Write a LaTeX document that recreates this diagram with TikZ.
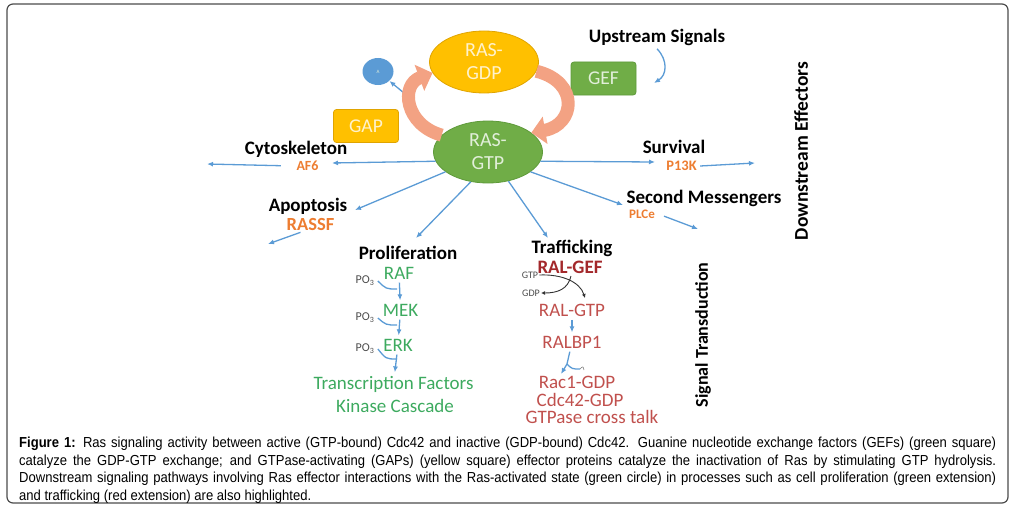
\documentclass[tikz,border=0pt]{standalone}
\usepackage{fontspec}
\setmainfont{Carlito}
\newfontfamily\capfont[FakeStretch=0.9]{Liberation Sans}
\usepackage{xcolor}
\usepackage{tikz}
\usetikzlibrary{shapes.geometric,arrows.meta}

\definecolor{rasyellow}{HTML}{FFC000}
\definecolor{rasyellowline}{HTML}{E0A400}
\definecolor{rasgreen}{HTML}{70AD47}
\definecolor{rasgreenline}{HTML}{5E9A3A}
\definecolor{paleyellow}{HTML}{FFF2CC}
\definecolor{palegreen}{HTML}{E2EFDA}
\definecolor{ringsalmon}{HTML}{F3A283}
\definecolor{flowblue}{HTML}{5B9BD5}
\definecolor{effectororange}{HTML}{ED7D31}
\definecolor{prolgreen}{HTML}{3DAA5F}
\definecolor{trafred}{HTML}{C0504D}
\definecolor{ralgefred}{HTML}{A3282B}

\begin{document}
\begin{tikzpicture}[x=1pt, y=-1pt,
    >={Latex[length=6pt,width=5pt]},
    flow/.style={draw=flowblue, line width=1.3pt},
    ring/.style={draw=ringsalmon, line width=13pt, -{Triangle[width=27pt,length=14pt]}},
    state/.style={ellipse, minimum width=109pt, minimum height=62pt, inner sep=0pt,
        align=center, line width=0.8pt, font=\fontsize{20}{23}\selectfont},
    enzyme/.style={rounded corners=3pt, minimum width=65pt, minimum height=33pt,
        inner sep=0pt, line width=0.8pt, font=\fontsize{19.5}{21}\selectfont},
    headline/.style={font=\fontsize{19}{21}\selectfont\bfseries},
    effector/.style={text=effectororange, font=\fontsize{14}{16}\selectfont\bfseries},
    prolstep/.style={text=prolgreen, font=\fontsize{19}{21}\selectfont},
    trafstep/.style={text=trafred, font=\fontsize{19}{21}\selectfont},
    phos/.style={text=black!70, font=\fontsize{12}{13}\selectfont}]
    \useasboundingbox (0,0) rectangle (1012,511);

    % Frame
    \draw[rounded corners=6pt, line width=1.2pt, draw=black!70] (7,4) rectangle (1008,503);

    % RAS cycle
    \node[state, draw=rasyellowline, fill=rasyellow, text=paleyellow] (gdp) at (484,62) {RAS-\\GDP};
    \node[state, draw=rasgreenline, fill=rasgreen, text=palegreen] (gtp) at (488,152) {RAS-\\GTP};
    \node[enzyme, draw=rasgreenline, fill=rasgreen, text=palegreen] (gef) at (603.5,78.5) {GEF};
    \node[enzyme, draw=rasyellowline, fill=rasyellow, text=paleyellow] (gap) at (366,126) {GAP};
    \node[ellipse, fill=flowblue, text=palegreen, minimum width=31pt, minimum height=27pt,
        inner sep=0pt, font=\fontsize{5}{5}\selectfont] (dot) at (378,71.5) {A};
    \coordinate (gapTail) at (410,98);
    \draw[flow,->] (gapTail) -- (dot);
    \draw[ring] (gtp.160) .. controls (405,125) and (400,85) .. (gdp.192);
    \draw[ring] (gdp.-10) .. controls (580,82) and (575,125) .. (gtp.24);

    % Upstream signals
    \node[headline] (upstream) at (657,37) {Upstream Signals};
    \coordinate (upEnd) at (654,83);
    \draw[flow,->] (upstream.south) .. controls (668,60) and (667,75) .. (upEnd);

    % Side titles
    \node[headline, font=\fontsize{19.5}{21}\selectfont\bfseries, rotate=90] (downstream) at (801,151) {Downstream Effectors};
    \node[headline, font=\fontsize{18}{20}\selectfont\bfseries, rotate=90] (signal) at (703,335) {Signal Transduction};

    % Effectors
    \node[headline] (cyto) at (296,149) {Cytoskeleton};
    \node[effector] (af6) at (307.5,166) {AF6};
    \coordinate (cytoIn) at (332,163);
    \coordinate (cytoOut) at (207,164);
    \draw[flow,->] (gtp.190) -- (cytoIn);
    \draw[flow,->, shorten <=12pt] (af6.west) -- (cytoOut);

    \node[headline, inner sep=1pt] (apop) at (308,206) {Apoptosis};
    \node[effector, inner sep=1pt, font=\fontsize{18.5}{20}\selectfont\bfseries] (rassf) at (310.5,224) {RASSF};
    \coordinate (apopIn) at (355,210);
    \coordinate (apopOut) at (268,244);
    \draw[flow,->] (gtp.205) -- (apopIn);
    \draw[flow,->] ([xshift=-10pt,yshift=-1pt]rassf.south) -- (apopOut);

    \node[headline] (surv) at (674,147) {Survival};
    \node[effector, font=\fontsize{14.5}{16}\selectfont\bfseries] (p13k) at (681.5,166) {P13K};
    \coordinate (survIn) at (655,162);
    \coordinate (survOut) at (755,163);
    \draw[flow,->] (gtp.-10) -- (survIn);
    \draw[flow,->] (p13k.east) -- (survOut);

    \node[headline] (second) at (704,198) {Second Messengers};
    \node[effector, font=\fontsize{13}{15}\selectfont\bfseries] (plce) at (642,214) {PLC\textsc{e}};
    \coordinate (secondIn) at (623,205);
    \coordinate (secondOut) at (698,229);
    \draw[flow,->] (gtp.-25) -- (secondIn);
    \draw[flow,->, shorten <=6pt] (plce.east) -- (secondOut);

    % Proliferation
    \node[headline] (prolif) at (408,253) {Proliferation};
    \coordinate (prolifIn) at (416,238);
    \draw[flow,->] (gtp.240) -- (prolifIn);
    \node[prolstep] (raf) at (399,273) {RAF};
    \node[prolstep] (mek) at (400.5,310) {MEK};
    \node[prolstep] (erk) at (398,345) {ERK};
    \node[prolstep] (tf) at (393.5,384) {Transcription Factors};
    \node[prolstep] (kc) at (395,406) {Kinase Cascade};
    \node[phos] (po3a) at (365,281) {PO\textsubscript{3}};
    \node[phos] (po3b) at (365,318) {PO\textsubscript{3}};
    \node[phos] (po3c) at (365,349) {PO\textsubscript{3}};
    \coordinate (hookA) at (397,289);
    \coordinate (hookB) at (397,325);
    \coordinate (hookC) at (397,359);
    \draw[flow,->] (raf) -- (mek);
    \draw[flow,->] (mek) -- (erk);
    \draw[flow,->] (erk) -- (tf);
    \draw[flow] (po3a.east) .. controls (386,289) .. (hookA);
    \draw[flow] (po3b.east) .. controls (386,325) .. (hookB);
    \draw[flow] (po3c.east) .. controls (386,359) .. (hookC);

    % Trafficking
    \node[headline] (traf) at (572,248) {Trafficking};
    \coordinate (trafIn) at (548,238);
    \draw[flow,->] (gtp.-55) -- (trafIn);
    \node[text=ralgefred, font=\fontsize{19}{21}\selectfont\bfseries] (ralgef) at (570,267) {RAL-GEF};
    \node[phos, inner sep=1pt, font=\fontsize{10}{11}\selectfont] (gtpsmall) at (530,275) {GTP};
    \node[phos, inner sep=1pt, font=\fontsize{10}{11}\selectfont] (gdpsmall) at (531,293) {GDP};
    \coordinate (swapIn) at (585,298);
    \coordinate (swapOut) at (571,276);
    \draw[black!80, line width=0.9pt, -{Latex[length=4pt,width=4pt]}] (gtpsmall.east) .. controls (562,274) and (580,282) .. (swapIn);
    \draw[black!80, line width=0.9pt, -{Latex[length=4pt,width=4pt]}] (swapOut) .. controls (568,289) and (558,293) .. (gdpsmall.east);
    \node[trafstep] (ralgtp) at (572,310) {RAL-GTP};
    \node[trafstep] (ralbp) at (572,342) {RALBP1};
    \node[trafstep] (rac) at (577,382) {Rac1-GDP};
    \node[trafstep] (cdc) at (580,400) {Cdc42-GDP};
    \node[trafstep] (cross) at (592,417) {GTPase cross talk};
    \draw[flow,->] (ralgtp) -- (ralbp);
    \coordinate (fork) at (567,364);
    \coordinate (forkL) at (561,374);
    \coordinate (forkR) at (580,369);
    \draw[flow] (ralbp) -- (fork);
    \draw[flow,->] (fork) -- (forkL);
    \draw[flow] (fork) .. controls (572,369) .. (forkR);
    \draw[black!50, line width=0.6pt] (forkR) .. controls (583,366) .. (584,370);

    % Caption
    \node[anchor=north west, align=left, inner sep=0pt,
        font=\capfont\fontsize{14.5}{17.5}\selectfont] (caption) at (19,437)
        {\makebox[977pt][s]{\textbf{Figure 1:} Ras signaling activity between active (GTP-bound) Cdc42 and inactive (GDP-bound) Cdc42. Guanine nucleotide exchange factors (GEFs) (green square)}\\
        \makebox[977pt][s]{catalyze the GDP-GTP exchange; and GTPase-activating (GAPs) (yellow square) effector proteins catalyze the inactivation of Ras by stimulating GTP hydrolysis.}\\
        \makebox[977pt][s]{Downstream signaling pathways involving Ras effector interactions with the Ras-activated state (green circle) in processes such as cell proliferation (green extension)}\\
        and trafficking (red extension) are also highlighted.};
\end{tikzpicture}
\end{document}
